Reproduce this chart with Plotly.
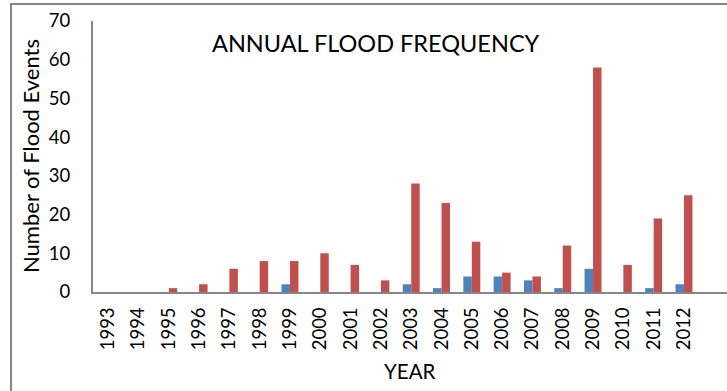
import plotly.graph_objects as go

years = [str(y) for y in range(1993, 2013)]
series_blue = [0, 0, 0, 0, 0, 0, 2, 0, 0, 0, 2, 1, 4, 4, 3, 1, 6, 0, 1, 2]
series_red = [0, 0, 1, 2, 6, 8, 8, 10, 7, 3, 28, 23, 13, 5, 4, 12, 58, 7, 19, 25]
y_ticks = [0, 10, 20, 30, 40, 50, 60, 70]

FONT = "Lato"
AXIS_GREY = "#868686"

fig = go.Figure()
fig.add_trace(go.Bar(x=years, y=series_blue, marker=dict(color="#4F81BD", line=dict(width=0))))
fig.add_trace(go.Bar(x=years, y=series_red, marker=dict(color="#C0504D", line=dict(width=0))))

fig.update_layout(
    width=727, height=391,
    margin=dict(l=93, r=0, t=21, b=99),
    paper_bgcolor="white", plot_bgcolor="white",
    showlegend=False,
    barmode="group", bargap=0.44, bargroupgap=0,
    font=dict(family=FONT, color="black"),
    xaxis=dict(
        type="category", range=[-0.5, 20.42],
        tickangle=-90, tickfont=dict(size=18.5),
        showline=True, linecolor=AXIS_GREY, linewidth=2,
        showgrid=False, ticks="outside", ticklen=6, tickcolor="rgba(0,0,0,0)",
        zeroline=False,
    ),
    yaxis=dict(
        range=[0, 70], tickvals=y_ticks, tickfont=dict(size=18.5),
        showline=True, linecolor=AXIS_GREY, linewidth=2,
        showgrid=False, ticks="outside", ticklen=17, tickcolor="rgba(0,0,0,0)",
        zeroline=False,
    ),
    annotations=[
        dict(text="ANNUAL FLOOD FREQUENCY", xref="paper", yref="paper",
             x=(376 - 93) / 634, y=1 - (43 - 21) / 271, xanchor="center", yanchor="middle",
             showarrow=False, font=dict(size=23.5)),
        dict(text="Number of Flood Events", xref="paper", yref="paper",
             x=(30 - 93) / 634, y=1 - (156 - 21) / 271, xanchor="center", yanchor="middle",
             textangle=-90, showarrow=False, font=dict(size=22)),
        dict(text="YEAR", xref="paper", yref="paper",
             x=(410 - 93) / 634, y=1 - (371 - 21) / 271, xanchor="center", yanchor="middle",
             showarrow=False, font=dict(size=20.5)),
    ],
    shapes=[
        dict(type="rect", xref="paper", yref="paper",
             x0=(11 - 93) / 634, x1=(740 - 93) / 634,
             y0=1 - (400 - 21) / 271, y1=1 - (4 - 21) / 271,
             line=dict(color=AXIS_GREY, width=2), layer="below"),
    ],
)

fig.write_html("out.html")
